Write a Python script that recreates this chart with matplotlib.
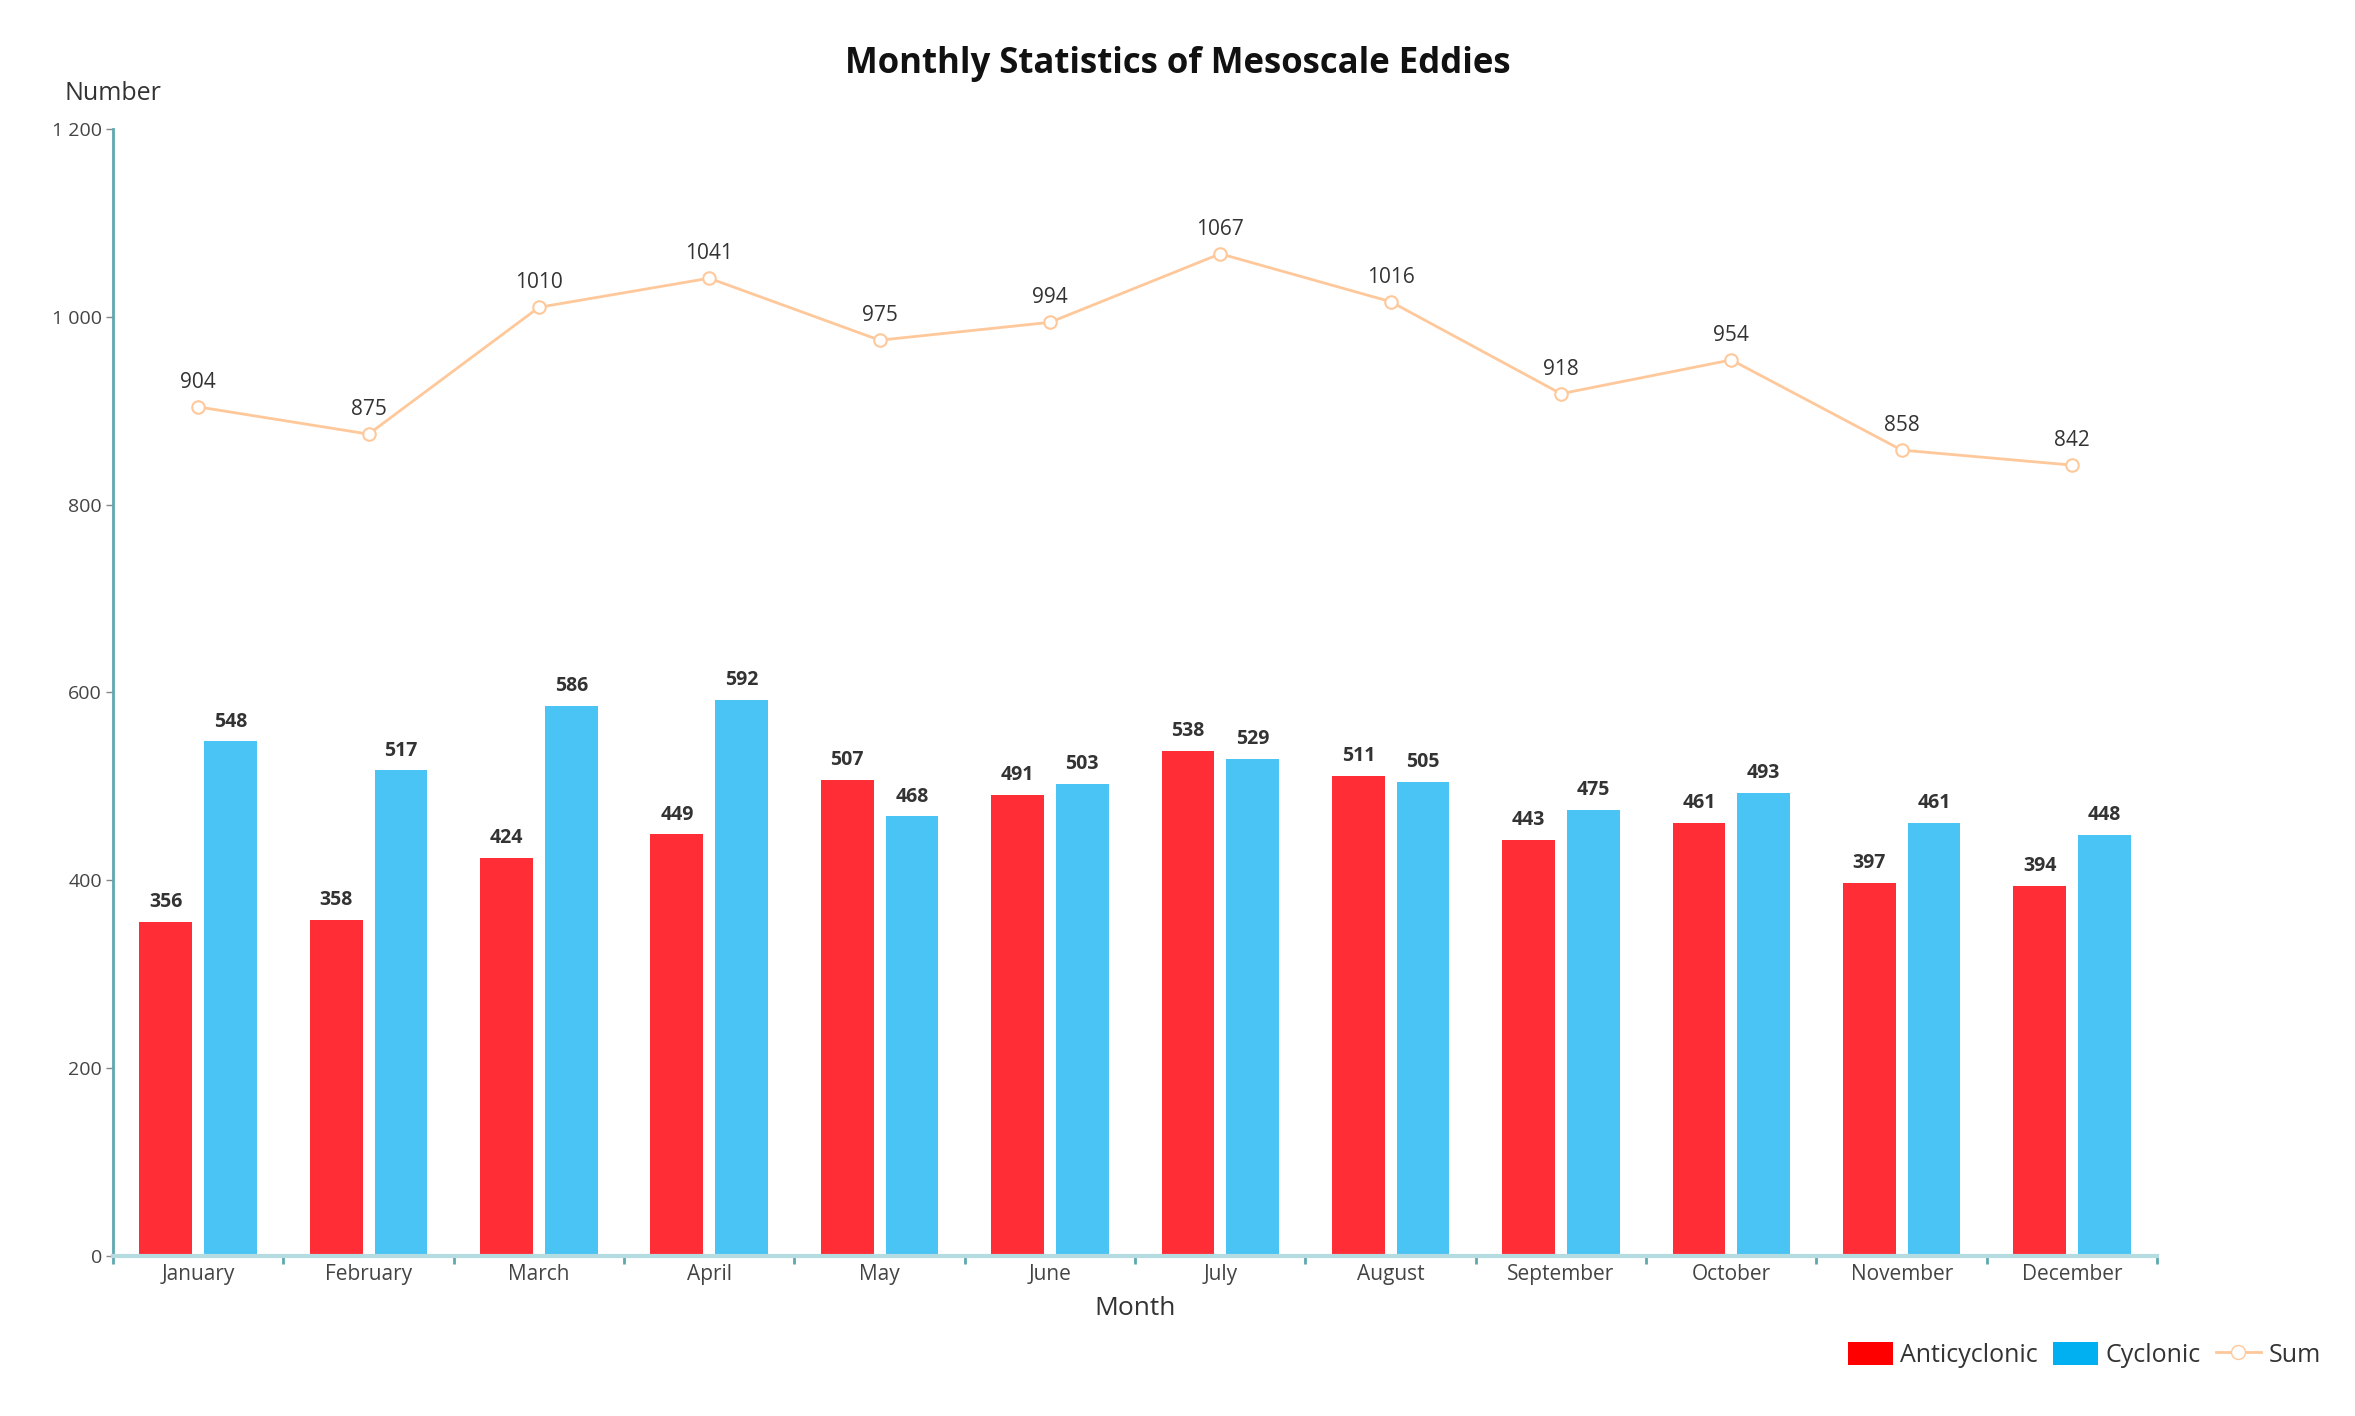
import matplotlib.pyplot as plt
from matplotlib.patches import Patch
from matplotlib.lines import Line2D
import numpy as np

plt.rcParams['font.family'] = ['Open Sans', 'DejaVu Sans']

# Data
months = ["January", "February", "March", "April", "May", "June", "July",
          "August", "September", "October", "November", "December"]
anticyclonic = [356, 358, 424, 449, 507, 491, 538, 511, 443, 461, 397, 394]
cyclonic = [548, 517, 586, 592, 468, 503, 529, 505, 475, 493, 461, 448]
total = [904, 875, 1010, 1041, 975, 994, 1067, 1016, 918, 954, 858, 842]
yticks = [0, 200, 400, 600, 800, 1000, 1200]
ytick_labels = ["0", "200", "400", "600", "800", "1 000", "1 200"]

red = '#FF2D35'
blue = '#4AC3F5'
peach = '#FFC89A'
axis_col = '#5FA8B0'

fig = plt.figure(figsize=(23.55, 14.16), dpi=100)
ax = fig.add_axes([0.048, 0.113, 0.868, 0.796])

x = np.arange(len(months))
w = 0.31
off = 0.19
ax.bar(x - off, anticyclonic, w, color=red, zorder=2)
ax.bar(x + off, cyclonic, w, color=blue, zorder=2)
ax.plot(x, total, color=peach, linewidth=2, marker='o', markersize=9,
        markerfacecolor='white', markeredgecolor=peach, markeredgewidth=1.5, zorder=3)

# Value labels
for i in range(len(months)):
    ax.annotate(str(anticyclonic[i]), (x[i] - off, anticyclonic[i]), xytext=(0, 7),
                textcoords='offset points', ha='center', va='bottom',
                fontsize=14, fontweight='bold', color='#333333')
    ax.annotate(str(cyclonic[i]), (x[i] + off, cyclonic[i]), xytext=(0, 7),
                textcoords='offset points', ha='center', va='bottom',
                fontsize=14, fontweight='bold', color='#333333')
    ax.annotate(str(total[i]), (x[i], total[i]), xytext=(0, 10),
                textcoords='offset points', ha='center', va='bottom',
                fontsize=15, color='#333333')

# Axes formatting
ax.set_xlim(-0.5, len(months) - 0.5)
ax.set_ylim(0, 1200)
ax.set_yticks(yticks)
ax.set_yticklabels(ytick_labels, fontsize=14, color='#444444')
ax.set_xticks(x)
ax.set_xticklabels(months, fontsize=15, color='#444444')
ax.set_xticks(np.arange(-0.5, len(months) + 0.5, 1), minor=True)
ax.tick_params(axis='x', which='major', length=0, pad=6)
ax.tick_params(axis='x', which='minor', length=6, width=2, color=axis_col)
ax.tick_params(axis='y', length=5, width=1, color='#888888', pad=3)

for s in ['top', 'right']:
    ax.spines[s].set_visible(False)
ax.spines['left'].set_color(axis_col)
ax.spines['left'].set_linewidth(2)
ax.spines['bottom'].set_color('#B5DCE0')
ax.spines['bottom'].set_linewidth(3)

ax.set_xlabel("Month", fontsize=19, color='#333333', labelpad=8)
fig.text(0.048, 0.934, "Number", fontsize=18, color='#333333', ha='center', va='center')
fig.text(0.5, 0.955, "Monthly Statistics of Mesoscale Eddies", fontsize=25,
         fontweight='bold', ha='center', va='center', color='#111111')

# Legend
handles = [Patch(facecolor='#FF0000', edgecolor='none', label='Anticyclonic'),
           Patch(facecolor='#00B0F0', edgecolor='none', label='Cyclonic'),
           Line2D([0], [0], color=peach, marker='o', markersize=10, markerfacecolor='white',
                  markeredgecolor=peach, linewidth=2, label='Sum')]
fig.legend(handles=handles, loc='center right', bbox_to_anchor=(0.995, 0.043), ncol=3,
           frameon=False, fontsize=18, handlelength=1.8, handleheight=1.0,
           columnspacing=0.6, handletextpad=0.3, labelcolor='#333333')

fig.savefig('out.png', dpi=100)
